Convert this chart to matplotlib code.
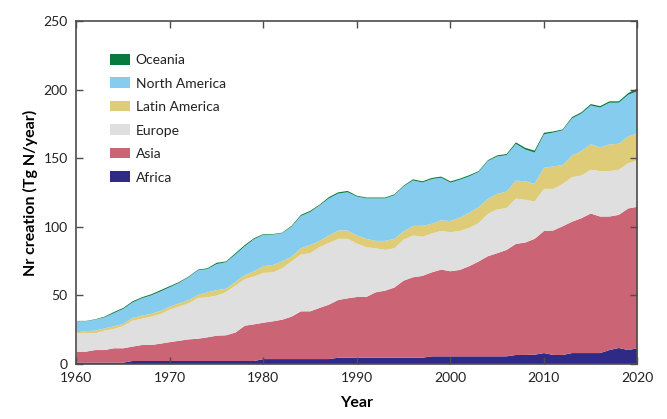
"""Reactive nitrogen creation by region, 1960-2020 (stacked area)."""

import matplotlib

matplotlib.use("Agg")

import matplotlib.pyplot as plt
import numpy as np
from matplotlib.patches import Patch

plt.rcParams["font.family"] = ["Lato", "DejaVu Sans"]

YEARS = list(range(1960, 2021))

# upper edge of each band (Tg N/year)
AFRICA_TOP = [1, 1, 1, 1, 1, 1, 2.2, 2.2, 2.2, 2.2, 2.2, 2.2, 2.2, 2.2, 2.2, 2.2, 2.2, 2.2, 2.2, 2.2,
              3.6, 3.6, 3.6, 3.6, 3.6, 3.6, 3.6, 3.6, 4.6, 4.6, 4.6, 4.6, 4.6, 4.6, 4.6, 4.6, 4.6, 4.6,
              5.6, 5.6, 5.6, 5.6, 5.6, 5.6, 5.6, 5.6, 5.6, 6.6, 6.6, 6.8, 8, 6.6, 6.6, 8, 8, 8, 8,
              10.2, 11.7, 10.2, 11.5]
ASIA_TOP = [9, 9, 10.2, 10.2, 11.5, 11.5, 12.7, 13.9, 13.9, 14.9, 16, 17, 18, 18.5, 19.5, 20.7, 21, 23,
            28, 29, 30.2, 31.2, 32.4, 34.6, 38.5, 38.5, 41, 43.4, 46.8, 48, 49, 49, 52.4, 53.6, 55.9,
            61, 63.4, 64.4, 67, 69, 67.8, 68.8, 71.5, 74.9, 78.8, 81, 83.4, 87.8, 88.8, 91.5, 97.2,
            97.6, 100.7, 104, 106.6, 110, 107.8, 107.8, 109, 113.7, 114.9]
EUROPE_TOP = [22.7, 22.4, 22.4, 24.4, 25.6, 27.8, 31.7, 33.2, 34.6, 36.6, 39.8, 42, 44.4, 48.3, 48.8, 50,
              52.7, 57.3, 62, 64, 66.6, 67, 70, 75, 80, 81, 85.4, 88.5, 91.5, 91.5, 88, 85.4, 84.6, 83.4,
              84.6, 91, 94, 93, 95.4, 97.3, 96.3, 97.3, 99.5, 103, 109.8, 113, 114, 121, 120, 118.8,
              128, 128, 131.7, 136.6, 137.8, 142, 141, 141, 142, 146.8, 148.8]
LATIN_TOP = [23.2, 24, 24.4, 26, 27.6, 29.3, 33.7, 35.4, 36.6, 39, 42, 44.4, 46.8, 50.5, 52.4, 54, 55, 60,
             65, 67.8, 71.5, 72.4, 75, 78.5, 84.6, 87, 90, 94, 97.6, 97.6, 94, 91.5, 90, 90, 91.5, 97,
             101, 101, 102.5, 105, 104.5, 107, 110.5, 114.6, 120.7, 124.4, 126, 134, 133.6, 131.7,
             143.4, 144.4, 145.4, 152.4, 155.6, 160.7, 158.3, 160.5, 161, 166.3, 168.8]
TOTAL = [31.5, 31.5, 32.7, 34.6, 38, 41, 45.8, 48.8, 51, 54, 57, 60, 64, 69, 70, 74, 75, 81, 87, 92, 95,
         95, 96, 101, 109, 112, 116.5, 122, 125.5, 126.5, 123, 121.7, 121.7, 121.7, 124, 130.5, 135,
         133.5, 136, 137, 133.5, 135.5, 138, 141, 149, 152.5, 153.5, 162, 158, 156, 169, 170, 171.5,
         180.5, 184, 190, 188.5, 192, 192, 198, 201.5]
OCEANIA = [0.2, 0.2, 0.3, 0.5, 0.8, 0.7, 0.8, 0.7, 0.8, 0.9, 0.8, 0.6, 0.5, 0.5, 0.6, 0.9, 0.6, 0.9, 0.9,
           0.7, 0.5, 0.4, 0.4, 0.6, 0.8, 0.8, 0.6, 0.9, 0.9, 0.9, 0.6, 0.6, 0.6, 0.6, 0.6, 0.6, 0.8,
           0.8, 0.8, 0.8, 0.9, 0.8, 0.8, 0.6, 0.6, 0.8, 0.8, 1.1, 1.2, 1.4, 1.1, 0.8, 0.6, 0.9, 0.9, 1,
           1, 1, 1, 1.2, 2]

LABELS = ["Africa", "Asia", "Europe", "Latin America", "North America", "Oceania"]
COLORS = ["#2e2a85", "#cb6475", "#dfdfdf", "#dfcc78", "#86ccef", "#077a3e"]
AXIS = "#4d4d4d"

years = np.array(YEARS)
total = np.array(TOTAL)
tops = [AFRICA_TOP, ASIA_TOP, EUROPE_TOP, LATIN_TOP, total - np.array(OCEANIA), total]

fig = plt.figure(figsize=(6.67, 4.19), dpi=100)
ax = fig.add_axes([76 / 667, 1 - 363.5 / 419, 561 / 667, 342 / 419])

lower = np.zeros(years.size)
for top, color in zip(tops, COLORS):
    ax.fill_between(years, lower, top, color=color, linewidth=0)
    lower = top

ax.set_xlim(1960, 2020)
ax.set_ylim(0, 250)
ax.set_xticks(range(1960, 2021, 10))
ax.set_yticks(range(0, 251, 50))
ax.tick_params(direction="in", length=5, width=1, top=True, right=True, color=AXIS,
               labelsize=10, labelcolor="#222222", pad=6)

# bottom and right ticks sit on the filled areas, so they are white
for tick in ax.xaxis.get_major_ticks():
    tick.tick1line.set_color("white")
for tick in ax.yaxis.get_major_ticks():
    tick.tick2line.set_color("white")

for spine in ax.spines.values():
    spine.set_color(AXIS)
    spine.set_linewidth(1.2)

ax.set_xlabel("Year", fontsize=11.5, fontweight="bold", labelpad=9)
ax.set_ylabel("Nr creation (Tg N/year)", fontsize=11.5, fontweight="bold", labelpad=4)

handles = [Patch(facecolor=c, edgecolor="none", label=l) for l, c in zip(LABELS, COLORS)][::-1]
ax.legend(handles=handles, loc="upper left", bbox_to_anchor=(0.0605, 0.905), frameon=False,
          fontsize=10, handlelength=1.44, handleheight=0.79, handletextpad=0.42,
          labelspacing=0.82, borderpad=0, borderaxespad=0, labelcolor="#222222")

fig.savefig("out.png", dpi=100)
